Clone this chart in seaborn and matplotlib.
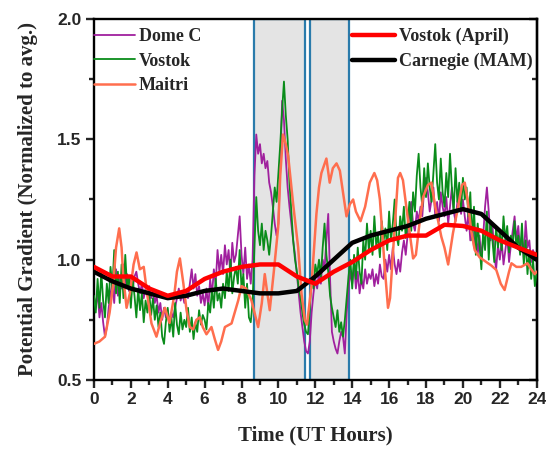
import numpy as np
import pandas as pd
import matplotlib
matplotlib.use("Agg")
import matplotlib.pyplot as plt
import seaborn as sns
from matplotlib.patches import Rectangle
from matplotlib.ticker import MultipleLocator

# ============================================================
# DATA
# ============================================================

# 0.1 h sampling for the two noisy stations, one row per hour
hours = np.round(np.arange(0, 24.05, 0.1), 1)

vostok = [
    0.85, 0.78, 0.92, 0.80, 0.95, 0.83, 0.76, 0.90, 0.82, 0.97,
    0.88, 1.04, 0.86, 0.95, 0.82, 0.98, 0.84, 1.02, 0.88, 0.93,
    0.80, 0.92, 0.85, 0.76, 0.88, 0.79, 0.86, 0.74, 0.83, 0.78,
    0.86, 0.77, 0.84, 0.75, 0.81, 0.72, 0.78, 0.68, 0.65, 0.74,
    0.80, 0.70, 0.76, 0.68, 0.82, 0.73, 0.69, 0.78, 0.71, 0.75,
    0.72, 0.80, 0.70, 0.76, 0.67, 0.74, 0.70, 0.79, 0.73, 0.77,
    0.75, 0.71, 0.82, 0.78, 0.88, 0.80, 0.92, 0.83, 0.86, 0.80,
    0.90, 0.84, 0.95, 0.87, 1.00, 0.86, 0.93, 0.97, 0.90, 1.04,
    0.88, 0.94, 0.80, 0.90, 0.76, 0.74, 0.82, 1.05, 1.26, 1.12,
    1.06, 1.15, 1.04, 1.12, 1.08, 1.02, 1.10, 1.20, 1.30, 1.24,
    1.36, 1.48, 1.62, 1.74, 1.60, 1.50, 1.32, 1.20, 1.08, 1.00,
    0.95, 0.88, 0.84, 0.78, 0.73, 0.70, 0.69, 0.80, 0.92, 0.88,
    0.98, 0.94, 1.00, 0.93, 1.05, 1.15, 1.02, 0.95, 0.85, 0.80,
    0.76, 0.72, 0.79, 0.70, 0.74, 0.68, 0.75, 0.84, 0.93, 1.00,
    0.88, 1.02, 0.92, 1.05, 0.95, 0.90, 1.08, 1.00, 1.15, 1.04,
    1.12, 1.02, 1.18, 1.06, 1.10, 1.01, 1.16, 1.08, 1.13, 1.04,
    1.20, 1.08, 1.15, 1.25, 1.10, 1.06, 1.18, 1.12, 1.22, 1.09,
    1.15, 1.24, 1.12, 1.28, 1.20, 1.35, 1.44, 1.30, 1.22, 1.38,
    1.26, 1.40, 1.30, 1.24, 1.36, 1.48, 1.32, 1.25, 1.42, 1.28,
    1.22, 1.36, 1.26, 1.44, 1.30, 1.20, 1.38, 1.24, 1.32, 1.21,
    1.34, 1.25, 1.30, 1.18, 1.28, 1.08, 1.22, 1.02, 1.15, 1.06,
    0.96, 1.12, 1.04, 1.20, 1.00, 1.16, 1.08, 0.99, 1.14, 1.05,
    1.12, 1.04, 1.18, 1.08, 1.14, 1.03, 1.10, 1.06, 1.16, 1.05,
    1.10, 1.02, 1.15, 0.98, 1.08, 0.94, 1.04, 0.92, 1.00, 0.89,
    0.95,
]

dome_c = [
    0.85, 0.80, 0.87, 0.76, 0.82, 0.74, 0.68, 0.72, 0.80, 0.86,
    0.90, 0.82, 0.96, 0.85, 0.92, 0.88, 0.98, 0.90, 0.94, 0.87,
    0.92, 0.88, 0.93, 0.95, 0.90, 0.86, 0.90, 0.84, 0.88, 0.85,
    0.89, 0.84, 0.87, 0.82, 0.85, 0.78, 0.82, 0.75, 0.80, 0.76,
    0.79, 0.74, 0.78, 0.76, 0.80, 0.84, 0.88, 0.83, 0.86, 0.82,
    0.87, 0.84, 0.90, 0.96, 0.88, 0.94, 0.85, 0.89, 0.82, 0.86,
    0.81, 0.88, 0.80, 0.92, 0.85, 0.96, 0.90, 1.04, 0.95, 1.02,
    0.94, 1.06, 0.98, 1.04, 0.93, 1.07, 0.99, 1.02, 1.10, 1.18,
    1.02, 0.94, 1.05, 0.92, 0.98, 0.90, 1.00, 1.35, 1.52, 1.44,
    1.48, 1.40, 1.44, 1.38, 1.41, 1.32, 1.28, 1.22, 1.15, 1.10,
    1.15, 1.38, 1.66, 1.58, 1.42, 1.30, 1.22, 1.15, 1.08, 1.02,
    0.94, 0.86, 0.78, 0.72, 0.66, 0.62, 0.61, 0.66, 0.78, 0.86,
    0.92, 0.88, 0.95, 0.90, 1.00, 0.96, 1.08, 1.19, 0.92, 0.70,
    0.66, 0.63, 0.61, 0.66, 0.70, 0.68, 0.61, 0.78, 0.88, 0.95,
    0.90, 0.98, 0.88, 0.95, 0.86, 0.92, 0.88, 0.96, 0.90, 0.94,
    0.92, 0.96, 0.89, 0.94, 0.90, 0.98, 0.93, 0.92, 1.00, 0.95,
    1.02, 0.96, 1.05, 0.98, 0.94, 1.00, 0.95, 1.03, 1.08, 1.02,
    1.10, 1.19, 1.24, 1.15, 1.12, 1.20, 1.16, 1.22, 1.18, 1.30,
    1.34, 1.28, 1.20, 1.25, 1.30, 1.18, 1.24, 1.16, 1.28, 1.22,
    1.18, 1.26, 1.15, 1.22, 1.30, 1.20, 1.16, 1.24, 1.28, 1.19,
    1.25, 1.18, 1.12, 1.20, 1.08, 1.15, 1.05, 1.12, 1.02, 1.10,
    1.00, 1.10, 1.22, 1.30, 1.20, 1.08, 1.15, 1.02, 0.96, 1.06,
    1.00, 1.08, 0.98, 1.04, 1.10, 0.99, 1.06, 1.12, 1.18, 1.08,
    1.14, 1.04, 1.10, 1.00, 1.16, 1.05, 1.08, 0.99, 1.04, 1.01,
    1.00,
]

# Maitri is smoother, read at its turning points
maitri_t = [
    0.0, 0.3, 0.6, 0.85, 1.05, 1.2, 1.37, 1.5, 1.59, 1.77, 1.95, 2.15, 2.31,
    2.49, 2.7, 2.9, 3.12, 3.39, 3.6, 3.85, 4.1, 4.35, 4.5, 4.66, 4.85, 5.02,
    5.2, 5.38, 5.55, 5.74, 5.9, 6.1, 6.37, 6.55, 6.73, 6.9, 7.1, 7.46, 7.82,
    8.0, 8.25, 8.54, 8.9, 9.1, 9.26, 9.4, 9.53, 9.75, 9.99, 10.1, 10.25,
    10.4, 10.53, 10.8, 11.07, 11.25, 11.43, 11.55, 11.79, 12.06, 12.2,
    12.33, 12.6, 12.78, 12.95, 13.15, 13.33, 13.5, 13.69, 13.87, 14.05,
    14.2, 14.45, 14.7, 14.95, 15.2, 15.35, 15.5, 15.76, 15.94, 16.05,
    16.21, 16.48, 16.6, 16.75, 17.03, 17.3, 17.45, 17.66, 17.84, 18.1,
    18.29, 18.5, 18.83, 19.0, 19.2, 19.46, 19.74, 19.95, 20.1, 20.25,
    20.45, 20.64, 20.9, 21.27, 21.55, 21.81, 22.05, 22.26, 22.5, 22.63,
    22.9, 23.16, 23.5, 23.7, 23.89, 24.0,
]
maitri_v = [
    0.65, 0.66, 0.68, 0.78, 0.90, 1.05, 1.13, 1.05, 0.93, 0.80, 0.86, 0.98, 1.03,
    0.96, 0.97, 0.85, 0.735, 0.68, 0.74, 0.80, 0.737, 0.85, 0.95, 1.005, 0.90, 0.79,
    0.72, 0.71, 0.75, 0.76, 0.72, 0.69, 0.72, 0.67, 0.625, 0.66, 0.72, 0.735, 0.83,
    0.89, 0.88, 0.83, 0.72, 0.82, 0.94, 0.86, 0.79, 0.95, 1.137, 1.35, 1.52,
    1.48, 1.43, 1.23, 1.05, 0.86, 0.75, 0.73, 0.89, 1.19, 1.30,
    1.36, 1.42, 1.32, 1.38, 1.40, 1.37, 1.28, 1.18, 1.23, 1.25,
    1.20, 1.16, 1.22, 1.32, 1.36, 1.33, 1.25, 0.97, 0.80, 0.84,
    1.03, 1.34, 1.36, 1.33, 1.16, 1.005, 1.02, 1.16, 1.26, 1.31,
    1.32, 1.22, 1.095, 1.05, 0.98, 1.11, 1.22, 1.31, 1.32, 1.25,
    1.12, 1.04, 1.01, 0.99, 0.975, 0.957, 0.90, 0.874, 0.95, 0.985,
    0.97, 0.97, 0.985, 0.96, 0.94, 0.95,
]

# smooth curves, hourly
hourly = list(range(25))
vostok_april = [0.97, 0.93, 0.93, 0.88, 0.85, 0.87, 0.92, 0.95, 0.97, 0.98,
                0.98, 0.93, 0.90, 0.95, 0.99, 1.04, 1.08, 1.10, 1.10, 1.145,
                1.14, 1.12, 1.08, 1.05, 1.02]
carnegie_mam = [0.95, 0.91, 0.88, 0.86, 0.84, 0.85, 0.87, 0.88, 0.87, 0.86,
                0.86, 0.87, 0.93, 1.00, 1.07, 1.10, 1.12, 1.14, 1.17, 1.19,
                1.21, 1.19, 1.12, 1.05, 1.00]

# shaded windows (start, end) in UT hours
windows = [(8.67, 11.45), (11.7, 13.8)]

# ============================================================
# PLOT
# ============================================================

sns.set_style("ticks")
plt.rcParams['font.family'] = ['Liberation Serif', 'DejaVu Serif']

fig = plt.figure(figsize=(5.46, 4.49), dpi=100)
ax = fig.add_axes([0.172, 0.1537, 0.811, 0.804])

for start, end in windows:
    ax.add_patch(Rectangle((start, 0.5), end - start, 1.5,
                           facecolor='#e4e4e4', edgecolor='#2a7bab',
                           linewidth=1.6, zorder=1))

sns.lineplot(x=hours, y=dome_c, color='#a0209e', lw=1.3, ax=ax, zorder=2)
sns.lineplot(x=hours, y=vostok, color='#0a8c1a', lw=1.3, ax=ax, zorder=3)
sns.lineplot(x=maitri_t, y=maitri_v, color='#ff6e4e', lw=1.8, ax=ax, zorder=4)
sns.lineplot(x=hourly, y=carnegie_mam, color='black', lw=3.2, ax=ax, zorder=5)
sns.lineplot(x=hourly, y=vostok_april, color='#ff0000', lw=3.2, ax=ax, zorder=6)

lines = ax.get_lines()
h_dome, h_vos, h_mai, h_car, h_apr = lines[0], lines[1], lines[2], lines[3], lines[4]

leg1 = ax.legend([h_dome, h_vos, h_mai], ['Dome C', 'Vostok', 'Maitri'],
                 loc='upper left', bbox_to_anchor=(0.0, 0.975),
                 frameon=False, borderpad=0, borderaxespad=0,
                 handlelength=2.25, handletextpad=0.25, labelspacing=0.42,
                 prop={'family': 'Liberation Serif', 'weight': 'bold', 'size': 13})
ax.add_artist(leg1)
ax.legend([h_apr, h_car], ['Vostok (April)', 'Carnegie (MAM)'],
          loc='upper left', bbox_to_anchor=(0.582, 0.975),
          frameon=False, borderpad=0, borderaxespad=0,
          handlelength=2.4, handletextpad=0.25, labelspacing=0.42,
          prop={'family': 'Liberation Serif', 'weight': 'bold', 'size': 13})

ax.set_xlim(0, 24)
ax.set_ylim(0.5, 2.0)
ax.xaxis.set_major_locator(MultipleLocator(2))
ax.xaxis.set_minor_locator(MultipleLocator(1))
ax.yaxis.set_major_locator(MultipleLocator(0.5))
ax.yaxis.set_minor_locator(MultipleLocator(0.25))
ax.yaxis.set_major_formatter(matplotlib.ticker.FormatStrFormatter('%.1f'))

for side in ['left', 'right', 'top', 'bottom']:
    ax.spines[side].set_linewidth(1.7)
    ax.spines[side].set_color('black')

ax.tick_params(which='major', direction='out', length=6, width=1.7,
               labelsize=12.5, pad=3)
ax.tick_params(which='minor', direction='out', length=3.5, width=1.7)
for lab in ax.get_xticklabels() + ax.get_yticklabels():
    lab.set_fontfamily('Liberation Sans')
    lab.set_fontweight('bold')

sec = ax.secondary_yaxis('right')
sec.yaxis.set_major_locator(MultipleLocator(0.5))
sec.yaxis.set_minor_locator(MultipleLocator(0.25))
sec.tick_params(which='major', direction='in', length=6, width=1.7, labelright=False)
sec.tick_params(which='minor', direction='in', length=3.5, width=1.7)
sec.spines['right'].set_linewidth(1.7)

ax.set_xlabel("Time (UT Hours)", fontsize=15, fontweight='bold', labelpad=13)
ax.set_ylabel("Potential Gradient (Normalized to avg.)", fontsize=15,
              fontweight='bold', labelpad=14)

fig.savefig("out.png", dpi=100)
